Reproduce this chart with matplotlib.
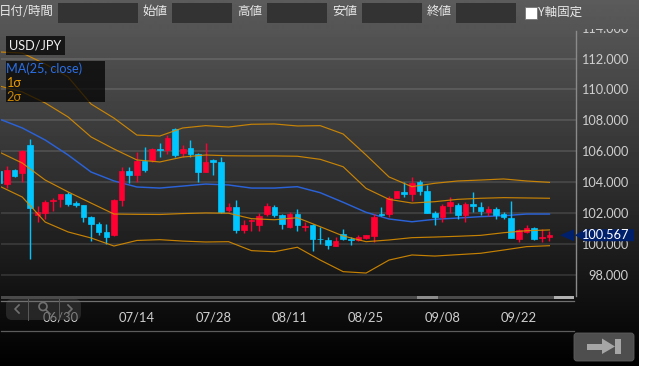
#coding: utf-8
import numpy as np
import matplotlib
matplotlib.use('Agg')
import matplotlib.pyplot as plt
from matplotlib.patches import Rectangle, Polygon, FancyBboxPatch, Circle

plt.rcParams['font.family'] = ['Lato', 'Noto Sans CJK JP', 'DejaVu Sans']

#ローソク足 (open, high, low, close)
opens = [104.72,103.86,104.77,104.59,106.41,101.86,101.98,102.80,102.91,103.24,102.63,102.52,101.73,101.29,100.75,
         100.58,102.83,104.72,104.47,105.35,105.44,106.17,106.08,107.42,105.87,106.19,105.82,104.68,105.41,105.28,
         102.18,102.42,100.88,101.51,101.23,101.94,102.39,101.88,101.10,101.94,101.10,101.25,100.35,100.24,99.89,
         100.65,100.32,100.28,100.41,100.54,101.94,101.94,103.00,103.39,103.24,104.03,103.41,102.03,101.75,102.48,
         102.55,101.88,102.57,102.39,102.09,102.24,101.92,101.70,100.32,100.80,101.01,100.37,100.43]
closes = [103.93,104.79,104.42,106.04,102.33,102.09,102.74,102.85,103.24,102.57,102.52,101.77,101.32,100.80,100.47,
          102.83,104.72,104.47,105.39,104.79,106.15,106.08,106.88,105.76,106.15,105.80,104.64,105.28,105.28,102.09,
          102.42,100.91,101.23,101.55,101.79,102.46,101.88,101.29,101.96,101.25,101.14,100.32,100.30,99.94,100.19,
          100.32,100.28,100.45,100.58,101.75,101.90,102.96,103.41,103.24,103.97,103.43,101.98,101.75,102.46,102.70,
          101.88,102.59,102.44,102.11,102.24,101.90,101.77,100.37,100.91,101.01,100.35,100.45,100.56]
highs = [104.75,105.05,104.83,106.08,106.79,102.46,102.85,102.96,103.24,103.39,102.78,102.52,101.79,101.40,101.27,
         102.89,104.98,104.96,105.93,106.30,106.23,106.51,107.05,107.48,106.41,106.73,105.87,106.51,105.48,105.65,
         102.67,102.85,101.55,101.62,102.03,102.63,102.52,101.92,102.05,102.26,101.45,101.29,101.08,100.47,100.45,
         100.95,100.43,100.58,100.58,101.94,102.37,103.11,103.45,103.99,104.31,104.14,103.82,102.14,102.59,103.06,
         102.63,102.70,103.34,102.74,102.46,102.42,102.05,102.78,100.95,101.23,101.08,100.97,100.82]
lows = [103.90,103.60,104.31,104.03,99.03,101.45,101.60,102.16,102.37,102.46,102.42,101.45,100.22,100.60,100.02,
        100.54,102.46,103.93,103.99,104.64,105.33,105.65,105.82,105.61,105.61,105.65,103.99,104.68,104.47,101.98,
        102.09,100.69,100.69,100.86,100.84,101.81,101.77,100.97,101.01,100.86,100.86,99.57,100.00,99.65,99.89,
        100.26,99.94,100.22,100.30,100.11,101.83,101.77,102.96,103.06,102.80,103.17,101.98,101.23,101.40,101.98,
        101.60,101.45,102.09,101.88,101.83,101.60,101.60,100.37,100.11,100.69,100.28,100.11,100.22]

#ボリンジャーバンド (3本おきに読み取り)
band_idx = list(range(0, 73, 3))
plus2 = [112.43,112.36,111.65,110.81,109.06,108.15,107.05,106.99,107.51,107.66,107.57,107.75,107.77,107.64,107.66,
         107.12,105.76,104.34,103.71,103.93,104.08,104.14,104.21,104.08,103.99]
plus1 = [110.23,109.84,109.13,108.22,106.93,106.15,105.44,105.31,105.63,105.76,105.71,105.70,105.70,105.68,105.48,
         105.00,103.60,102.89,102.65,102.74,102.89,102.96,103.00,102.98,102.96]
ma25 = [108.09,107.51,106.73,105.76,104.66,104.08,103.69,103.62,103.75,103.88,103.82,103.62,103.62,103.71,103.32,
        102.70,102.05,101.62,101.44,101.60,101.68,101.77,101.83,101.94,101.94]
minus1 = [105.95,105.24,104.14,103.37,102.65,101.94,101.92,101.91,101.97,102.01,101.99,101.64,101.57,101.70,101.12,
          100.52,100.15,100.26,100.41,100.45,100.50,100.56,100.73,100.86,100.91]
minus2 = [103.75,103.04,101.42,100.78,100.39,99.87,100.23,100.28,100.19,100.13,100.15,99.57,99.50,99.79,98.96,
          98.21,98.12,98.96,99.29,99.22,99.31,99.40,99.61,99.83,99.89]

date_idx = [8, 18, 28, 38, 48, 58, 68]
date_labels = ['06/30', '07/14', '07/28', '08/11', '08/25', '09/08', '09/22']
price_ticks = [98, 100, 102, 104, 106, 108, 110, 112, 114]
last_price = 100.567

RED = '#ff0033'
CYAN = '#00c6ff'
BLUE = '#2a62d8'
ORANGE = '#d88c00'
TEXT = '#cfcfcf'

W, H = 646, 371
fig = plt.figure(figsize=(W/100, H/100), dpi=100, facecolor='white')

def box(l, t, r, b):
    return [l/W, (H-b)/H, (r-l)/W, (b-t)/H]

#背景のグラデーション
grad = np.linspace(92, 0, 366).reshape(-1, 1)/255.
bg = fig.add_axes(box(0, 0, 639, 366), zorder=0)
bg.imshow(grad, cmap='gray', vmin=0, vmax=1, aspect='auto')
bg.axis('off')

#チャート本体
ax = fig.add_axes(box(1, 24.6, 575.5, 296), zorder=1)
ax.patch.set_alpha(0)
px_day = 7.64
ax.set_xlim(1-6/px_day, 1+568.5/px_day)
ax.set_ylim(100-52/15.45, 100+219.4/15.45)

for s in ['top', 'left', 'bottom']:
    ax.spines[s].set_visible(False)
ax.spines['right'].set_color('#8a8a8a')
ax.spines['right'].set_linewidth(1)
ax.spines['right'].set_bounds(100-52/15.45, 113.8)

ax.set_yticks(price_ticks)
ax.set_yticklabels(['%.3f' % p for p in price_ticks], ha='right', color=TEXT, fontsize=9.2)
ax.yaxis.tick_right()
ax.tick_params(axis='y', length=0, pad=38)
ax.set_xticks(date_idx)
ax.set_xticklabels(date_labels, color=TEXT, fontsize=9.4)
ax.tick_params(axis='x', length=0, pad=10.8)
ax.grid(axis='y', color='white', alpha=0.12, lw=1.3)
ax.set_axisbelow(True)

#ローソク足
days = np.arange(len(opens))
o, c, hi, lo = map(np.array, (opens, closes, highs, lows))
cols = [RED if b >= a else CYAN for a, b in zip(o, c)]
ax.vlines(days, lo, hi, colors=cols, lw=1.0, zorder=3)
ax.bar(days, np.abs(c-o), bottom=np.minimum(o, c), width=5.6/px_day, color=cols,
       edgecolor=cols, linewidth=0.5, zorder=3)

#バンド
ax.plot(band_idx, ma25, color=BLUE, lw=1.05, zorder=2.5)
for band in (plus2, plus1, minus1, minus2):
    ax.plot(band_idx, band, color=ORANGE, lw=0.85, zorder=4, alpha=0.9)

#ヘッダー (114.000 の上半分を隠す)
head = fig.add_axes(box(0, 0, 639, 29.5), zorder=2)
head.imshow(grad[:30], cmap='gray', vmin=0, vmax=1, aspect='auto')
head.axis('off')

#画面部品は全てピクセル座標のオーバーレイに描く
ui = fig.add_axes([0, 0, 1, 1], zorder=3)
ui.set_xlim(0, W)
ui.set_ylim(H, 0)
ui.axis('off')
ui.patch.set_alpha(0)

head_labels = [(26, '日付/時間'), (155, '始値'), (250, '高値'), (345, '安値'), (439, '終値')]
for x, s in head_labels:
    ui.text(x, 11.5, s, color='#e8e8e8', fontsize=9, ha='center', va='center', family='Noto Sans CJK JP')
for l, r in [(58, 138), (172, 232), (267, 327), (362, 422), (456, 516)]:
    ui.add_patch(Rectangle((l, 3), r-l, 20, fc='#333333', ec='none'))
ui.add_patch(Rectangle((524.5, 7), 12, 12, fc='white', ec='#777777', lw=0.6))
ui.text(538, 12.5, 'Y軸固定', color='#e8e8e8', fontsize=9, ha='left', va='center', family='Noto Sans CJK JP')

#凡例
ui.add_patch(Rectangle((6, 36), 59, 19, fc='black', ec='none', alpha=0.72))
ui.text(9.5, 46, 'USD/JPY', color='#f0f0f0', fontsize=9.2, va='center')
ui.add_patch(Rectangle((6, 61), 99, 41, fc='black', ec='none', alpha=0.72))
ui.text(6, 68.5, 'MA(25, close)', color='#2b6fe6', fontsize=9.1, va='center')
ui.text(6, 83, '1σ', color='#e89a00', fontsize=9.2, va='center')
ui.text(6, 97, '2σ', color='#c98400', fontsize=9.2, va='center')

#スクロールバーと下の線
ui.add_patch(Rectangle((1, 296), 573, 3, fc='#4a4a4a', ec='none'))
ui.add_patch(Rectangle((417, 296), 21, 3, fc='#8c8c8c', ec='none'))
ui.add_patch(Rectangle((554, 296), 20, 3, fc='#b0b0b0', ec='none'))
ui.plot([1, 574], [300.5, 300.5], color='#707070', lw=0.9)
ui.plot([1, 574], [330.5, 330.5], color='#5c5c5c', lw=0.9)

#ナビボタン
ui.add_patch(FancyBboxPatch((9, 302), 69, 15, boxstyle='round,pad=3,rounding_size=6',
                            fc='#3c3c3c', ec='none', alpha=0.55))
ui.plot([28, 28], [299, 320], color='#5a5a5a', lw=0.7)
ui.plot([59, 59], [299, 320], color='#5a5a5a', lw=0.7)
ui.plot([19, 15, 19], [305, 309, 313], color='#707070', lw=1.2)
ui.plot([68, 72, 68], [305, 309, 313], color='#707070', lw=1.2)
ui.add_patch(Circle((43, 306.5), 4, fc='none', ec='#707070', lw=1.2))
ui.plot([46, 50], [310, 314], color='#707070', lw=1.2)

#次へボタン
ui.add_patch(FancyBboxPatch((576, 335), 56, 24, boxstyle='round,pad=2,rounding_size=3',
                            fc='#4e4e4e', ec='#5e5e5e', lw=0.6))
ui.add_patch(Rectangle((587, 343.5), 16, 6.5, fc='#a6a6a6', ec='none'))
ui.add_patch(Polygon([(602, 338.5), (615, 346.5), (602, 354)], fc='#a6a6a6', ec='none'))
ui.add_patch(Rectangle((615, 338.5), 6, 15.5, fc='#a6a6a6', ec='none'))

#現在値
fig.canvas.draw()
tag_y = H - ax.transData.transform((0, last_price))[1]
navy = '#00206c'
ui.add_patch(Polygon([(560, tag_y), (574, tag_y-6), (574, tag_y+6)], fc=navy, ec='none'))
ui.add_patch(Polygon([(575, tag_y), (585, tag_y-6), (634, tag_y-6), (634, tag_y+6), (585, tag_y+6)], fc=navy, ec='none'))
ui.text(628.5, tag_y, '%.3f' % last_price, color='white', fontsize=9.2, ha='right', va='center')

fig.savefig('out.png', dpi=100, facecolor='white')
